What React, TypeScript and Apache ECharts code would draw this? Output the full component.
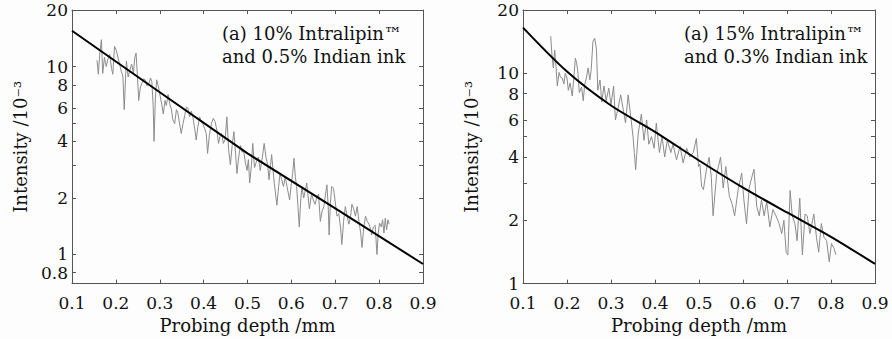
import React, { useEffect, useRef } from "react";
import * as echarts from "echarts";

// ---------- data ----------
const xTickStep = 0.1;
const xMin = 0.1;
const xMax = 0.9;

const leftYMin = 0.7;
const leftYMax = 20;
const rightYMin = 1;
const rightYMax = 20;

const leftYLabels = [0.8, 1, 2, 4, 6, 8, 10, 20];
const leftYTicks = [0.8, 1, 2, 3, 4, 5, 6, 8, 10, 20];
const rightYLabels = [1, 2, 4, 6, 8, 10, 20];
const rightYTicks = [1, 2, 3, 4, 5, 6, 8, 10, 20];

const leftTitle = "(a) 10% Intralipin™\nand 0.5% Indian ink";
const rightTitle = "(a) 15% Intralipin™\nand 0.3% Indian ink";

// measured intensity (x 10^-3) vs probing depth (mm), panel 1
const leftMeasured: [number, number][] = [
  [0.157, 10.8], [0.16, 9.1], [0.163, 11.5], [0.167, 13.9], [0.17, 9.2], [0.174, 11.2],
  [0.178, 10.0], [0.182, 11.0], [0.186, 11.6], [0.19, 9.8], [0.193, 9.1], [0.197, 12.8],
  [0.201, 12.2], [0.205, 11.1], [0.209, 10.2], [0.212, 9.5], [0.216, 8.9], [0.219, 5.9],
  [0.222, 8.6], [0.224, 10.7], [0.228, 8.8], [0.232, 9.6], [0.236, 10.3], [0.24, 9.2],
  [0.243, 11.1], [0.246, 11.8], [0.249, 9.0], [0.252, 6.6], [0.256, 7.8], [0.259, 8.1],
  [0.263, 8.6], [0.267, 8.5], [0.271, 7.9], [0.275, 8.1], [0.279, 8.7], [0.282, 8.3],
  [0.285, 6.2], [0.287, 4.0], [0.29, 6.8], [0.293, 8.5], [0.297, 7.8], [0.3, 7.15],
  [0.304, 6.4], [0.308, 5.6], [0.312, 6.6], [0.315, 6.2], [0.319, 7.1], [0.323, 6.3],
  [0.326, 6.0], [0.33, 5.2], [0.334, 4.97], [0.338, 5.9], [0.341, 5.7], [0.345, 5.0],
  [0.349, 4.4], [0.353, 4.97], [0.357, 5.5], [0.361, 6.1], [0.364, 6.0], [0.368, 5.4],
  [0.372, 5.8], [0.376, 5.3], [0.38, 4.6], [0.383, 4.07], [0.387, 4.8], [0.391, 5.4],
  [0.394, 5.1], [0.398, 4.97], [0.402, 4.7], [0.406, 4.4], [0.409, 3.45], [0.413, 4.3],
  [0.418, 5.0], [0.422, 5.3], [0.426, 5.1], [0.43, 4.6], [0.434, 3.9], [0.438, 4.3],
  [0.441, 4.4], [0.445, 3.9], [0.449, 4.1], [0.453, 5.4], [0.457, 3.6], [0.461, 3.0],
  [0.465, 3.8], [0.469, 4.5], [0.473, 3.4], [0.476, 2.7], [0.48, 3.3], [0.484, 3.8],
  [0.488, 3.5], [0.491, 3.6], [0.495, 3.1], [0.499, 2.8], [0.502, 3.2], [0.505, 2.4],
  [0.509, 3.0], [0.512, 3.9], [0.516, 2.9], [0.52, 3.1], [0.525, 3.3], [0.529, 2.8],
  [0.534, 3.3], [0.538, 3.9], [0.542, 3.3], [0.546, 3.0], [0.549, 2.5], [0.552, 2.9],
  [0.555, 3.4], [0.561, 2.4], [0.567, 1.83], [0.571, 2.3], [0.574, 2.7], [0.578, 2.5],
  [0.582, 2.3], [0.586, 2.6], [0.59, 2.3], [0.596, 1.95], [0.6, 2.4], [0.603, 2.7],
  [0.606, 3.25], [0.609, 2.6], [0.612, 2.3], [0.615, 1.8], [0.618, 1.4], [0.621, 1.9],
  [0.624, 2.3], [0.628, 2.0], [0.632, 2.2], [0.635, 2.4], [0.641, 1.75], [0.646, 2.1],
  [0.65, 1.95], [0.654, 1.85], [0.658, 2.0], [0.662, 2.1], [0.666, 1.5], [0.67, 1.7],
  [0.674, 1.8], [0.678, 2.1], [0.681, 2.35], [0.684, 1.8], [0.686, 1.27], [0.689, 1.9],
  [0.692, 2.3], [0.696, 2.25], [0.7, 1.9], [0.704, 1.6], [0.708, 1.65], [0.712, 1.4],
  [0.715, 1.13], [0.719, 1.5], [0.723, 1.8], [0.727, 1.6], [0.731, 1.45], [0.735, 1.6],
  [0.738, 1.85], [0.742, 1.75], [0.746, 1.6], [0.75, 1.8], [0.754, 1.5], [0.758, 1.3],
  [0.761, 1.09], [0.765, 1.4], [0.769, 1.6], [0.773, 1.5], [0.777, 1.45], [0.781, 1.35],
  [0.783, 1.27], [0.787, 1.4], [0.791, 1.43], [0.795, 1.0], [0.798, 1.3], [0.801, 1.47],
  [0.805, 1.4], [0.808, 1.53], [0.811, 1.3], [0.814, 1.56], [0.817, 1.35], [0.82, 1.53],
  [0.823, 1.45],
];

// fitted curve, panel 1
const leftFit: [number, number][] = [
  [0.1, 15.5], [0.3, 7.3], [0.5, 3.45], [0.7, 1.76], [0.9, 0.89],
];

// measured intensity, panel 2
const rightMeasured: [number, number][] = [
  [0.163, 15.0], [0.166, 12.0], [0.169, 10.6], [0.172, 12.9], [0.175, 10.8], [0.178, 8.7],
  [0.182, 10.1], [0.185, 9.6], [0.189, 9.5], [0.193, 8.9], [0.196, 10.0], [0.2, 9.5],
  [0.203, 8.3], [0.207, 9.0], [0.212, 7.8], [0.216, 9.8], [0.219, 11.8], [0.222, 11.2],
  [0.225, 10.0], [0.228, 8.1], [0.233, 8.6], [0.237, 7.4], [0.24, 8.8], [0.244, 9.5],
  [0.248, 10.6], [0.252, 9.3], [0.255, 10.4], [0.259, 14.2], [0.263, 14.7], [0.267, 13.0],
  [0.27, 8.3], [0.275, 9.3], [0.279, 7.3], [0.284, 8.7], [0.289, 7.4], [0.295, 8.5],
  [0.3, 7.1], [0.306, 8.7], [0.31, 6.0], [0.316, 6.8], [0.322, 7.9], [0.328, 6.7],
  [0.333, 5.8], [0.339, 7.9], [0.345, 6.2], [0.35, 5.0], [0.353, 4.2], [0.356, 3.48],
  [0.362, 5.2], [0.369, 6.4], [0.375, 4.8], [0.381, 6.0], [0.386, 4.6], [0.392, 5.0],
  [0.398, 4.4], [0.403, 5.8], [0.41, 4.2], [0.416, 5.0], [0.422, 4.0], [0.428, 4.8],
  [0.436, 4.2], [0.441, 4.6], [0.449, 3.88], [0.457, 4.5], [0.464, 3.75], [0.472, 4.4],
  [0.479, 4.0], [0.487, 4.2], [0.494, 4.9], [0.499, 3.6], [0.502, 3.7], [0.506, 2.9],
  [0.51, 2.8], [0.517, 3.5], [0.523, 3.98], [0.528, 3.2], [0.532, 2.1], [0.54, 3.3],
  [0.549, 4.0], [0.555, 2.85], [0.561, 3.6], [0.569, 2.6], [0.575, 2.4], [0.581, 2.1],
  [0.589, 2.8], [0.597, 3.35], [0.602, 2.5], [0.608, 1.92], [0.614, 2.85], [0.62, 3.2],
  [0.625, 3.5], [0.631, 2.34], [0.637, 2.1], [0.642, 2.5], [0.648, 2.1], [0.654, 2.45],
  [0.661, 1.86], [0.668, 2.25], [0.675, 2.1], [0.682, 1.93], [0.688, 1.73], [0.693, 2.0],
  [0.698, 1.41], [0.702, 1.37], [0.707, 2.77], [0.712, 2.1], [0.718, 1.93], [0.723, 1.6],
  [0.729, 2.55], [0.735, 1.37], [0.741, 2.14], [0.746, 2.1], [0.752, 1.73], [0.761, 2.14],
  [0.767, 1.66], [0.772, 1.41], [0.778, 1.93], [0.784, 1.66], [0.79, 1.6], [0.796, 1.27],
  [0.801, 1.55], [0.807, 1.47], [0.811, 1.37],
];

// fitted curve, panel 2
const rightFit: [number, number][] = [
  [0.1, 16.5], [0.2, 10.2], [0.3, 7.03], [0.4, 5.27], [0.5, 3.85], [0.6, 2.86],
  [0.7, 2.18], [0.8, 1.67], [0.9, 1.24],
];

// ---------- styling ----------
const FRAME = "#555555";
const TEXT = "#111111";
const TICK_FONT = "'DejaVu Serif', serif";
const NAME_FONT = "'DejaVu Serif', serif";

const lg = (v: number) => Math.log10(v);
const toLog = (pts: [number, number][]) => pts.map(([x, y]) => [x, lg(y)]);
const fmtY = (v: number) => String(parseFloat(Math.pow(10, v).toPrecision(2)));

function panel(
  gi: number,
  yMin: number,
  yMax: number,
  yLabels: number[],
  yTicks: number[],
  measured: [number, number][],
  fit: [number, number][]
) {
  const tickStyle = { show: true, inside: true, length: 4, lineStyle: { color: FRAME, width: 1 } };
  const lineStyle = { show: true, onZero: false, lineStyle: { color: FRAME, width: 1 } };
  const xAxes = [
    {
      type: "value", gridIndex: gi, position: "bottom", min: xMin, max: xMax, interval: xTickStep,
      axisLine: lineStyle, axisTick: tickStyle, splitLine: { show: false },
      axisLabel: {
        color: TEXT, fontFamily: TICK_FONT, fontSize: 17, margin: 12, lineHeight: 14,
        formatter: (v: number) => v.toFixed(1),
      },
      name: "Probing depth /mm", nameLocation: "middle", nameGap: 29,
      nameTextStyle: { color: TEXT, fontFamily: NAME_FONT, fontSize: 18 },
    },
    {
      type: "value", gridIndex: gi, position: "top", min: xMin, max: xMax, interval: xTickStep,
      axisLine: lineStyle, axisTick: tickStyle, splitLine: { show: false }, axisLabel: { show: false },
    },
  ];
  const yAxes = [
    {
      type: "value", gridIndex: gi, position: "left", min: lg(yMin), max: lg(yMax),
      axisLine: lineStyle,
      axisTick: { ...tickStyle, customValues: yTicks.map(lg) },
      splitLine: { show: false },
      axisLabel: {
        color: TEXT, fontFamily: TICK_FONT, fontSize: 17, margin: 4, lineHeight: 13,
        customValues: yLabels.map(lg), formatter: fmtY,
      },
      name: "Intensity /10⁻³", nameLocation: "middle", nameGap: 43,
      nameTextStyle: { color: TEXT, fontFamily: NAME_FONT, fontSize: 18 },
    },
    {
      type: "value", gridIndex: gi, position: "right", min: lg(yMin), max: lg(yMax),
      axisLine: lineStyle,
      axisTick: { ...tickStyle, customValues: yTicks.map(lg) },
      splitLine: { show: false }, axisLabel: { show: false },
    },
  ];
  const series = [
    {
      type: "line", xAxisIndex: gi * 2, yAxisIndex: gi * 2, data: toLog(measured),
      showSymbol: false, symbol: "none", lineStyle: { color: "#8c8c8c", width: 1 }, z: 2,
    },
    {
      type: "line", xAxisIndex: gi * 2, yAxisIndex: gi * 2, data: toLog(fit),
      showSymbol: false, symbol: "none", smooth: gi === 1 ? 0.3 : false,
      lineStyle: { color: "#000000", width: 2 }, z: 3,
    },
  ];
  return { xAxes, yAxes, series };
}

export default function App() {
  const ref = useRef<HTMLDivElement>(null);
  useEffect(() => {
    if (!ref.current) return;
    const chart = echarts.init(ref.current, null, { renderer: "svg" });
    const p1 = panel(0, leftYMin, leftYMax, leftYLabels, leftYTicks, leftMeasured, leftFit);
    const p2 = panel(1, rightYMin, rightYMax, rightYLabels, rightYTicks, rightMeasured, rightFit);
    chart.setOption({
      animation: false,
      backgroundColor: "#fdfdfd",
      grid: [
        { left: 72, top: 10, width: 351, height: 277 },
        { left: 523, top: 10, width: 352, height: 277 },
      ],
      xAxis: [...p1.xAxes, ...p2.xAxes],
      yAxis: [...p1.yAxes, ...p2.yAxes],
      series: [...p1.series, ...p2.series],
      graphic: [
        {
          type: "text", left: 222, top: 22,
          style: { text: leftTitle, fill: TEXT, font: `18px ${NAME_FONT}`, lineHeight: 23, align: "center" },
        },
        {
          type: "text", left: 684, top: 22,
          style: { text: rightTitle, fill: TEXT, font: `18px ${NAME_FONT}`, lineHeight: 23, align: "center" },
        },
      ],
    });
    return () => chart.dispose();
  }, []);
  return (
    <div
      ref={ref}
      style={{ position: "fixed", left: 0, top: 0, width: 892, height: 339, background: "#fdfdfd" }}
    />
  );
}
